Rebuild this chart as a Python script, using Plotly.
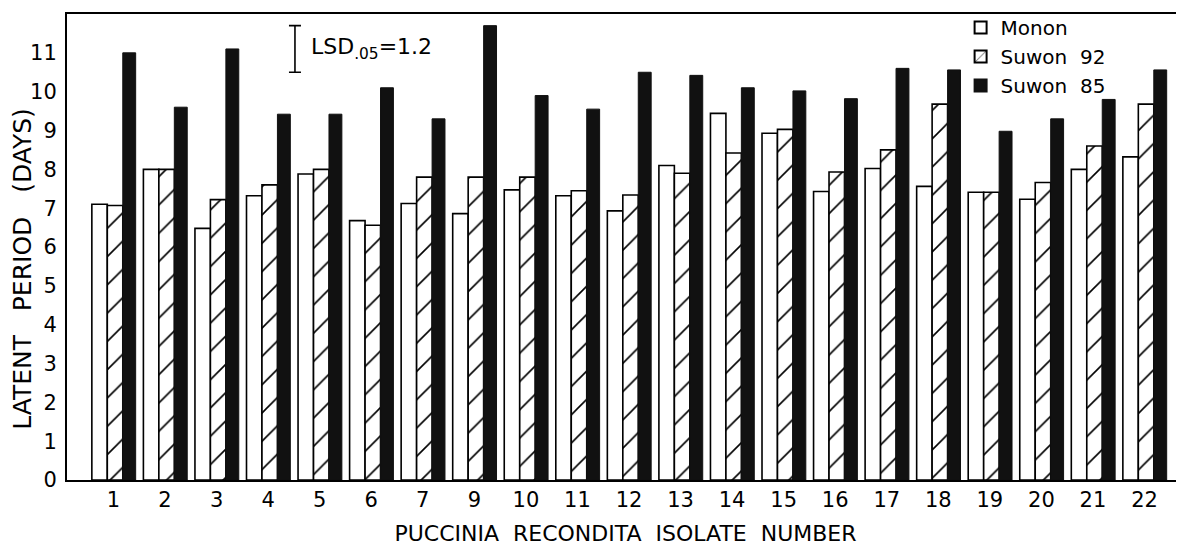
import plotly.graph_objects as go

isolates = ["1", "2", "3", "4", "5", "6", "7", "9", "10", "11", "12", "13", "14", "15",
            "16", "17", "18", "19", "20", "21", "22"]
monon = [7.1, 8.0, 6.48, 7.32, 7.88, 6.68, 7.12, 6.86, 7.47, 7.32, 6.93, 8.1, 9.44, 8.93,
         7.43, 8.02, 7.56, 7.41, 7.23, 8.0, 8.32]
suwon92 = [7.07, 8.0, 7.22, 7.6, 8.0, 6.56, 7.8, 7.8, 7.8, 7.45, 7.34, 7.9, 8.42, 9.03,
           7.93, 8.5, 9.68, 7.41, 7.66, 8.6, 9.68]
suwon85 = [11.0, 9.6, 11.1, 9.42, 9.42, 10.1, 9.3, 11.7, 9.9, 9.55, 10.5, 10.42, 10.1, 10.02,
           9.82, 10.6, 10.56, 8.98, 9.3, 9.8, 10.56]
lsd_value = 1.2
lsd_center = 11.1
lsd_pos = 3.52

FONT = "DejaVu Sans"
idx = list(range(len(isolates)))

fig = go.Figure()
fig.add_trace(go.Bar(
    x=idx, y=monon, name="Monon", width=0.30, offset=-0.42,
    marker=dict(color="white", line=dict(color="black", width=1.6)),
))
fig.add_trace(go.Bar(
    x=idx, y=suwon92, name="Suwon&nbsp;&nbsp;92", width=0.30, offset=-0.12,
    marker=dict(color="white", line=dict(color="black", width=1.6),
                pattern=dict(shape="/", fgcolor="black", fgopacity=1, bgcolor="white",
                             size=20, solidity=0.08)),
))
fig.add_trace(go.Bar(
    x=idx, y=suwon85, name="Suwon&nbsp;&nbsp;85", width=0.25, offset=0.18,
    marker=dict(color="#111111", line=dict(color="#111111", width=1.0)),
))
fig.add_trace(go.Scatter(
    x=[lsd_pos], y=[lsd_center], mode="markers", showlegend=False, hoverinfo="skip",
    marker=dict(size=1, color="rgba(0,0,0,0)"),
    error_y=dict(type="data", symmetric=True, array=[lsd_value / 2], color="black",
                 thickness=1.6, width=6),
))

fig.add_annotation(x=lsd_pos + 0.28, y=lsd_center, xref="x", yref="y",
                   text="LSD<sub>.05</sub>=1.2", showarrow=False,
                   xanchor="left", yanchor="middle",
                   font=dict(family=FONT, size=22, color="black"))

fig.add_annotation(x=-0.04, y=0.454, xref="paper", yref="paper", textangle=-90,
                   text="LATENT&nbsp;&nbsp;&nbsp;PERIOD&nbsp;&nbsp;&nbsp;(DAYS)",
                   showarrow=False, xanchor="center", yanchor="middle",
                   font=dict(family=FONT, size=25, color="black"))

fig.update_layout(
    width=1176, height=538,
    margin=dict(l=59, r=0, t=5, b=66),
    paper_bgcolor="white", plot_bgcolor="white",
    barmode="overlay",
    font=dict(family=FONT, size=21, color="black"),
    legend=dict(x=0.80, y=1.012, xanchor="left", yanchor="top",
                bgcolor="rgba(0,0,0,0)", font=dict(family=FONT, size=20),
                traceorder="normal", tracegroupgap=0, itemsizing="constant"),
    xaxis=dict(range=[-0.902, 20.766], tickmode="array", tickvals=idx, ticktext=isolates,
               showline=True, linecolor="black", linewidth=2, mirror=True,
               showgrid=False, zeroline=False, ticks="", ticklen=0,
               tickfont=dict(family=FONT, size=21),
               title=dict(text="PUCCINIA&nbsp;&nbsp;RECONDITA&nbsp;&nbsp;ISOLATE&nbsp;&nbsp;NUMBER",
                          font=dict(family=FONT, size=22), standoff=16)),
    yaxis=dict(range=[0, 12], tickmode="array", tickvals=list(range(12)),
               showline=True, linecolor="black", linewidth=2,
               showgrid=False, zeroline=False, ticks="", ticklen=0, ticklabelstandoff=4,
               tickfont=dict(family=FONT, size=21)),
    yaxis2=dict(range=[0, 12], overlaying="y", side="right", tickmode="array",
                tickvals=list(range(12)), ticks="inside", ticklen=6, tickwidth=1.5,
                tickcolor="black", showticklabels=False, showline=False,
                showgrid=False, zeroline=False),
)

fig.write_html("out.html")
